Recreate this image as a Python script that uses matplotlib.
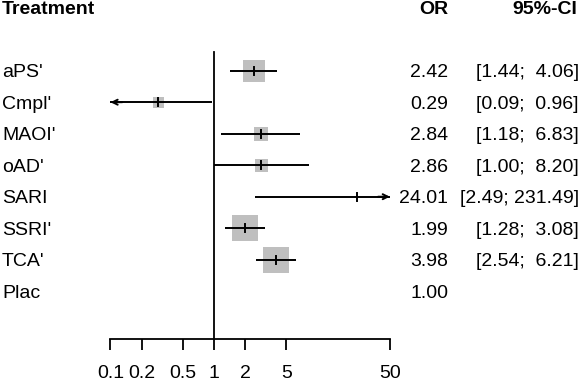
import matplotlib
matplotlib.use("Agg")
import matplotlib.pyplot as plt

plt.rcParams['font.family'] = ['Liberation Sans', 'DejaVu Sans']

treatments = ["aPS'", "Cmpl'", "MAOI'", "oAD'", "SARI", "SSRI'", "TCA'", "Plac"]
odds = [2.42, 0.29, 2.84, 2.86, 24.01, 1.99, 3.98, 1.00]
lower = [1.44, 0.09, 1.18, 1.00, 2.49, 1.28, 2.54, None]
upper = [4.06, 0.96, 6.83, 8.20, 231.49, 3.08, 6.21, None]
box_px = [22, 11, 14, 13, 2, 26, 26, 0]   # square side
ticks = [0.1, 0.2, 0.5, 1, 2, 5, 50]
tick_labels = ["0.1", "0.2", "0.5", "1", "2", "5", "50"]

W, H = 582, 386
fig = plt.figure(figsize=(W / 100, H / 100), dpi=100)
axis_y = 339
row0, step = 70.7, 31.5
ax = fig.add_axes([0, (H - axis_y) / H, 1, axis_y / H])

# x: 103.5 px per decade, x=1 at 214 px
ppd = 103.5
ax.set_xscale('log')
ax.set_xlim(10 ** (-214 / ppd), 10 ** ((W - 214) / ppd))
# y: one unit per row
ax.set_ylim((axis_y - row0) / step, -row0 / step)

for s in ['top', 'left', 'right']:
    ax.spines[s].set_visible(False)
ax.spines['bottom'].set_bounds(ticks[0], ticks[-1])
ax.spines['bottom'].set_linewidth(1.3)
ax.set_yticks([])
ax.set_xticks(ticks)
ax.set_xticklabels(tick_labels)
ax.minorticks_off()
ax.tick_params(axis='x', direction='out', length=8, width=1.3, pad=11, labelsize=14)

xmin, xmax = ticks[0], ticks[-1]
ax.plot([1, 1], [(52 - row0) / step, (axis_y - row0) / step], color='black', lw=1.3, clip_on=False)

for i, (o, lo, hi, b) in enumerate(zip(odds, lower, upper, box_px)):
    if lo is None:
        continue
    if b > 3:
        ax.scatter([o], [i], marker='s', s=(b * 0.72) ** 2, color='#bfbfbf', zorder=2, linewidths=0)
    l = max(lo, xmin)
    h = min(hi, xmax)
    ax.plot([l, h], [i, i], color='black', lw=1.4, zorder=3, solid_capstyle='butt')
    if lo < xmin:
        ax.annotate('', xy=(xmin, i), xytext=(xmin * 1.3, i),
                    arrowprops=dict(arrowstyle='->', lw=1.4, color='black',
                                    mutation_scale=9, shrinkA=0, shrinkB=0))
    if hi > xmax:
        ax.annotate('', xy=(xmax, i), xytext=(xmax / 1.3, i),
                    arrowprops=dict(arrowstyle='->', lw=1.4, color='black',
                                    mutation_scale=9, shrinkA=0, shrinkB=0))
    ax.plot([o, o], [i - 0.13, i + 0.13], color='black', lw=1.4, zorder=4)

tr = ax.get_yaxis_transform()
fs = 14
hy = (9 - row0) / step
ax.text(2 / W, hy, "Treatment", transform=tr, ha='left', va='center',
        fontsize=fs, fontweight='bold')
ax.text(448 / W, hy, "OR", transform=tr, ha='right', va='center',
        fontsize=fs, fontweight='bold')
ax.text(577 / W, hy, "95%-CI", transform=tr, ha='right', va='center',
        fontsize=fs, fontweight='bold')

dy = 2 / step
for i, name in enumerate(treatments):
    ax.text(2 / W, i + dy, name, transform=tr, ha='left', va='center', fontsize=fs)
    ax.text(448 / W, i + dy, f"{odds[i]:.2f}", transform=tr, ha='right', va='center', fontsize=fs)
    if lower[i] is not None:
        hi_s = f"{upper[i]:.2f}".rjust(5)
        ci = f"[{lower[i]:.2f}; {hi_s}]"
        ax.text(579 / W, i + dy, ci, transform=tr, ha='right', va='center', fontsize=fs)

fig.savefig("out.png", dpi=100)
